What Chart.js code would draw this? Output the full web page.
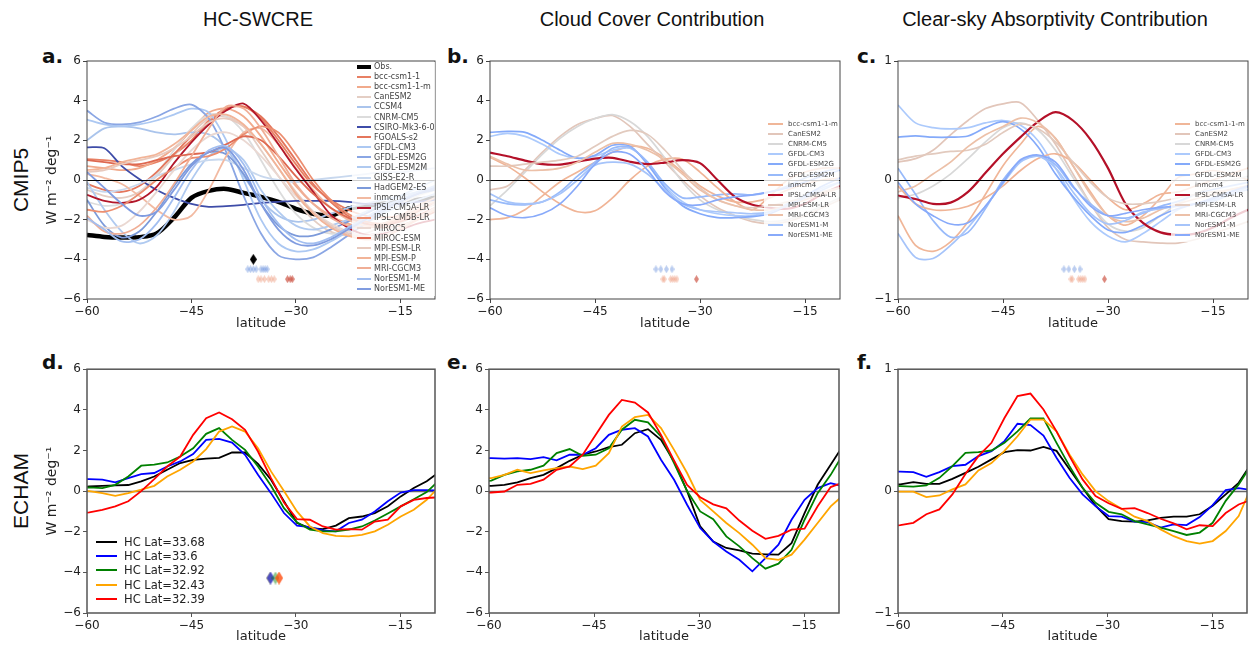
<!DOCTYPE html>
<html>
<head>
<meta charset="utf-8">
<title>HC-SWCRE latitude profiles</title>
<script src="https://cdn.jsdelivr.net/npm/chart.js@4.4.1/dist/chart.umd.min.js"></script>
<style>
  html, body { margin: 0; padding: 0; background: #fff; }
  body { position: relative; width: 1255px; height: 645px; overflow: hidden; font-family: "DejaVu Sans", sans-serif; color: #111; }
  canvas { position: absolute; }
  .col-title { position: absolute; top: 7px; width: 420px; text-align: center; font-family: "Liberation Sans", Arial, sans-serif; font-size: 20px; line-height: 24px; }
  .row-title { position: absolute; font-family: "Liberation Sans", Arial, sans-serif; font-size: 21px; transform: translate(-50%, -50%) rotate(-90deg); white-space: nowrap; }
  .panel-letter { position: absolute; font-family: "DejaVu Sans", sans-serif; font-weight: bold; font-size: 20px; line-height: 20px; }
  .legend { position: absolute; padding-bottom: 2px; }
  .legend .row { display: flex; align-items: center; white-space: nowrap; }
  .legend .swatch { flex: none; display: inline-block; }
</style>
</head>
<body>
<div class="col-title" style="left:48px">HC-SWCRE</div>
<div class="col-title" style="left:442px">Cloud Cover Contribution</div>
<div class="col-title" style="left:845px">Clear-sky Absorptivity Contribution</div>
<div class="row-title" style="left:21px;top:180px">CMIP5</div>
<div class="row-title" style="left:21px;top:491px">ECHAM</div>
<div class="panel-letter" style="left:42px;top:46px">a.</div>
<div class="panel-letter" style="left:447px;top:46px">b.</div>
<div class="panel-letter" style="left:857px;top:46px">c.</div>
<div class="panel-letter" style="left:42px;top:352px">d.</div>
<div class="panel-letter" style="left:447px;top:352px">e.</div>
<div class="panel-letter" style="left:857px;top:352px">f.</div>

<script>
// ---- axes ----
const xTicks = [-60, -45, -30, -15];
const wideTicks = [-6, -4, -2, 0, 2, 4, 6];
const narrowTicks = [-1, 0, 1];

// ---- CMIP5 (2.5 deg grid) ----
const cmipLat = [-60, -57.5, -55, -52.5, -50, -47.5, -45, -42.5, -40, -37.5, -35,
                 -32.5, -30, -27.5, -25, -22.5, -20, -17.5, -15, -12.5, -10];

// panel a: HC-SWCRE, rows follow hcModels
const hcModels = ['Obs.', 'bcc-csm1-1', 'bcc-csm1-1-m', 'CanESM2', 'CCSM4', 'CNRM-CM5',
  'CSIRO-Mk3-6-0', 'FGOALS-s2', 'GFDL-CM3', 'GFDL-ESM2G', 'GFDL-ESM2M', 'GISS-E2-R',
  'HadGEM2-ES', 'inmcm4', 'IPSL-CM5A-LR', 'IPSL-CM5B-LR', 'MIROC5', 'MIROC-ESM',
  'MPI-ESM-LR', 'MPI-ESM-P', 'MRI-CGCM3', 'NorESM1-M', 'NorESM1-ME'];
const hcSwcre = [
  [-2.77, -2.87, -2.9, -2.88, -2.7, -1.9, -0.9, -0.55, -0.45, -0.65, -0.85, -1.1, -1.45, -1.7, -1.8, -1.45, -1.3, -1.2, -1.1, -1.0, -0.9],
  [1.05, 1.0, 0.9, 0.7, 0.9, 1.3, 2.0, 3.0, 3.6, 3.7, 3.1, 2.0, 0.8, -0.3, -1.0, -1.5, -1.8, -1.9, -1.8, -1.5, -1.2],
  [0.7, 0.6, 0.5, 0.6, 1.0, 1.6, 2.5, 3.4, 3.6, 3.2, 2.2, 0.9, -0.3, -1.2, -1.8, -2.2, -2.4, -2.3, -2.0, -1.6, -1.2],
  [-0.5, -0.8, -0.9, -0.6, 0.2, 1.2, 2.3, 3.1, 3.2, 2.7, 1.5, 0.2, -1.0, -2.0, -2.6, -2.8, -2.7, -2.3, -1.8, -1.4, -1.0],
  [2.0, 2.6, 2.7, 2.6, 2.4, 2.3, 2.4, 2.3, 1.6, 0.2, -1.0, -1.8, -2.1, -2.0, -1.7, -1.4, -1.2, -1.0, -0.8, -0.6, -0.4],
  [-1.1, -1.3, -1.2, -0.7, 0.3, 1.5, 2.6, 3.3, 3.2, 2.4, 1.0, -0.5, -1.7, -2.4, -2.7, -2.6, -2.2, -1.7, -1.2, -0.8, -0.5],
  [1.65, 1.6, 0.7, 0.05, -0.5, -0.9, -1.2, -1.35, -1.32, -1.25, -1.15, -1.1, -1.05, -1.05, -1.05, -1.1, -1.2, -1.25, -1.2, -1.1, -1.0],
  [-0.2, -0.5, -0.6, -0.3, 0.4, 1.3, 2.2, 2.9, 3.6, 3.7, 3.2, 2.2, 1.0, -0.2, -1.1, -1.8, -2.2, -2.4, -2.3, -2.0, -1.6],
  [3.05, 2.8, 2.7, 2.8, 3.0, 3.3, 3.6, 3.4, 2.0, 0.0, -2.0, -3.2, -3.6, -3.5, -3.1, -2.6, -2.1, -1.7, -1.3, -1.0, -0.7],
  [3.5, 2.9, 2.8, 2.9, 3.2, 3.6, 3.8, 3.1, 1.4, -0.8, -2.7, -3.8, -4.0, -3.9, -3.4, -2.8, -2.2, -1.6, -1.1, -0.7, -0.4],
  [-0.1, -1.5, -2.6, -3.2, -2.8, -1.6, 0.0, 1.2, 1.6, 1.0, -0.5, -1.6, -2.3, -2.5, -2.3, -2.0, -1.6, -1.2, -0.8, -0.4, 0.0],
  [-0.4, -0.6, -0.5, -0.2, 0.2, 0.5, 0.8, 1.0, 1.0, 0.6, 0.2, 0.0, -0.1, 0.0, 0.1, 0.2, 0.3, 0.4, 0.4, 0.5, 0.6],
  [-1.0, -2.3, -2.9, -2.6, -1.6, -0.3, 0.8, 1.4, 1.3, 0.3, -1.2, -2.3, -2.8, -2.8, -2.5, -2.1, -1.7, -1.3, -1.0, -0.7, -0.5],
  [0.3, 0.1, -0.2, -0.8, -1.5, -2.0, -1.8, -0.5, 1.2, 2.4, 2.6, 1.8, 0.6, -0.5, -1.4, -2.0, -2.3, -2.2, -1.9, -1.5, -1.1],
  [-0.75, -1.05, -1.15, -1.0, -0.35, 0.85, 1.9, 2.8, 3.5, 3.85, 3.0, 1.8, 0.55, -0.6, -1.75, -2.4, -2.75, -2.7, -2.5, -2.2, -2.0],
  [-1.5, -1.6, -1.3, -0.7, 0.0, 0.6, 1.1, 1.2, 1.6, 2.3, 2.7, 2.4, 1.3, 0.0, -1.0, -1.7, -2.1, -2.2, -2.0, -1.6, -1.2],
  [-2.0, -2.4, -2.3, -1.6, -0.6, 0.5, 1.5, 2.2, 2.4, 2.0, 1.2, 0.2, -0.8, -1.6, -2.2, -2.6, -2.8, -2.6, -2.2, -1.7, -1.2],
  [1.0, 0.9, 0.8, 0.8, 1.0, 1.2, 1.3, 1.4, 1.8, 2.2, 2.0, 1.2, 0.2, -0.7, -1.4, -1.9, -2.2, -2.3, -2.1, -1.8, -1.4],
  [0.4, 0.5, 0.8, 1.0, 1.2, 1.6, 2.2, 2.9, 3.1, 2.7, 1.8, 0.6, -0.6, -1.6, -2.3, -2.7, -2.9, -2.8, -2.4, -1.9, -1.4],
  [0.5, 0.6, 0.9, 1.1, 1.3, 1.8, 2.5, 3.2, 3.3, 2.8, 1.8, 0.6, -0.7, -1.7, -2.4, -2.8, -3.0, -2.9, -2.5, -2.0, -1.5],
  [-1.8, -2.6, -2.7, -2.3, -1.4, -0.2, 1.2, 2.6, 3.7, 3.6, 2.6, 1.2, -0.2, -1.2, -1.9, -2.3, -2.4, -2.2, -1.8, -1.3, -0.9],
  [-1.9, -2.5, -3.1, -3.0, -2.2, -0.9, 0.5, 1.5, 1.7, 0.8, -0.9, -2.2, -3.0, -3.2, -2.9, -2.4, -1.9, -1.4, -1.0, -0.6, -0.3],
  [0.4, -0.4, -1.2, -1.8, -1.6, -0.5, 0.7, 1.4, 1.6, 0.5, -1.2, -2.5, -3.2, -3.3, -3.0, -2.5, -2.0, -1.5, -1.1, -0.7, -0.4]
];
const hcColors = ['#000000', 'rgb(232,128,100)', 'rgb(241,170,140)', 'rgb(228,206,196)', 'rgb(170,196,236)',
  'rgb(220,220,220)', 'rgb(62,76,168)', 'rgb(228,118,92)', 'rgb(172,200,242)', 'rgb(138,166,228)',
  'rgb(176,202,240)', 'rgb(200,216,238)', 'rgb(124,154,218)', 'rgb(242,186,162)', 'rgb(178,22,42)',
  'rgb(236,142,112)', 'rgb(234,216,210)', 'rgb(222,104,80)', 'rgb(232,202,190)', 'rgb(242,180,152)',
  'rgb(240,174,150)', 'rgb(162,190,240)', 'rgb(128,156,224)'];

// HC edge latitudes (diamonds) for panel a
const hcObsEdge = [-36.1];
const hcBlueEdges = [-36.9, -36.5, -36.1, -35.7, -35.0, -34.7, -34.4, -34.1];
const hcRedEdges = [-35.4, -35.0, -34.5, -33.9, -33.5, -33.1, -31.2, -30.8, -30.5];

// panels b and c, rows follow decompModels
const decompModels = ['bcc-csm1-1-m', 'CanESM2', 'CNRM-CM5', 'GFDL-CM3', 'GFDL-ESM2G', 'GFDL-ESM2M',
  'inmcm4', 'IPSL-CM5A-LR', 'MPI-ESM-LR', 'MRI-CGCM3', 'NorESM1-M', 'NorESM1-ME'];
const decompColors = ['rgb(240,182,152)', 'rgb(226,198,186)', 'rgb(216,216,216)', 'rgb(172,202,252)',
  'rgb(132,170,250)', 'rgb(152,186,250)', 'rgb(240,180,150)', 'rgb(180,16,40)', 'rgb(226,202,190)',
  'rgb(236,192,168)', 'rgb(166,196,250)', 'rgb(136,170,250)'];
const cloudCover = [
  [-2.0, -1.9, -1.5, -0.8, -0.1, 0.4, 0.9, 1.4, 1.7, 1.6, 1.1, 0.4, -0.3, -0.8, -1.1, -1.1, -0.9, -0.5, -0.2, 0.0, 0.1],
  [-0.5, -0.3, 0.5, 1.4, 2.2, 2.8, 3.1, 3.25, 2.7, 1.8, 0.9, 0.0, -0.8, -1.4, -1.8, -2.1, -2.2, -2.1, -1.8, -1.4, -1.0],
  [-1.3, -0.5, 0.4, 1.3, 2.1, 2.7, 3.1, 3.3, 2.95, 2.2, 1.1, -0.1, -1.0, -1.5, -1.8, -2.0, -2.1, -2.0, -1.7, -1.3, -0.9],
  [2.2, 2.35, 2.2, 1.8, 1.3, 1.1, 1.2, 1.5, 1.6, 0.9, -0.3, -1.1, -1.5, -1.7, -1.8, -1.8, -1.6, -1.2, -0.8, -0.4, -0.1],
  [2.4, 2.45, 2.4, 2.0, 1.5, 1.1, 1.25, 1.75, 1.7, 0.8, -0.4, -1.3, -1.7, -1.9, -1.9, -1.85, -1.7, -1.3, -0.8, -0.3, 0.1],
  [-1.0, -1.2, -1.25, -1.1, -0.6, 0.2, 0.9, 1.6, 1.65, 0.9, -0.2, -0.9, -0.85, -0.75, -0.7, -0.75, -0.6, -0.3, 0.1, 0.4, 0.6],
  [1.15, 0.7, 0.1, -0.6, -1.2, -1.6, -1.55, -0.9, 0.0, 0.7, 1.05, 1.05, 0.4, -0.4, -1.1, -1.5, -0.8, 0.0, 0.4, 0.6, 0.6],
  [1.38, 1.2, 0.98, 0.8, 0.78, 0.92, 1.08, 1.12, 0.92, 0.8, 0.88, 1.0, 0.85, 0.0, -0.85, -1.25, -1.4, -1.45, -1.2, -0.7, -0.3],
  [0.7, 0.7, 0.8, 0.9, 1.0, 1.2, 1.7, 2.2, 2.5, 2.3, 1.5, 0.5, -0.4, -1.0, -1.3, -1.4, -1.3, -1.1, -0.9, -0.6, -0.4],
  [1.2, 0.8, 0.5, 0.5, 0.6, 0.9, 1.4, 1.85, 1.8, 1.5, 1.0, 0.3, -0.5, -1.0, -1.3, -1.5, -1.5, -1.3, -1.0, -0.7, -0.4],
  [-0.7, -1.1, -1.2, -1.1, -0.7, 0.0, 0.75, 0.9, 0.8, 0.3, -0.5, -1.2, -1.5, -1.6, -1.65, -1.7, -1.6, -1.3, -0.9, -0.5, -0.1],
  [-1.4, -1.8, -1.9, -1.7, -1.2, -0.3, 0.8, 1.4, 1.3, 0.5, -0.6, -1.2, -1.25, -1.0, -0.85, -0.75, -0.6, -0.4, -0.1, 0.2, 0.5]
];
const clearSky = [
  [-0.3, -0.55, -0.6, -0.52, -0.35, -0.12, 0.12, 0.3, 0.45, 0.35, 0.12, -0.1, -0.3, -0.38, -0.3, -0.15, 0.02, 0.05, 0.08, 0.05, 0.0],
  [0.15, 0.18, 0.25, 0.38, 0.5, 0.6, 0.64, 0.65, 0.5, 0.3, 0.05, -0.2, -0.4, -0.5, -0.52, -0.53, -0.53, -0.5, -0.45, -0.4, -0.35],
  [-0.15, -0.12, -0.05, 0.05, 0.18, 0.32, 0.44, 0.48, 0.42, 0.25, 0.02, -0.2, -0.37, -0.43, -0.4, -0.3, -0.2, -0.12, -0.05, 0.0, 0.03],
  [0.63, 0.48, 0.44, 0.43, 0.44, 0.48, 0.5, 0.46, 0.33, 0.1, -0.15, -0.35, -0.47, -0.52, -0.45, -0.35, -0.25, -0.2, -0.17, -0.12, -0.08],
  [0.36, 0.37, 0.36, 0.36, 0.37, 0.44, 0.49, 0.43, 0.28, 0.05, -0.14, -0.3, -0.42, -0.44, -0.38, -0.3, -0.24, -0.2, -0.16, -0.1, -0.05],
  [0.1, -0.12, -0.34, -0.48, -0.44, -0.24, 0.0, 0.16, 0.2, 0.13, -0.06, -0.2, -0.3, -0.32, -0.28, -0.22, -0.18, -0.12, -0.08, -0.05, -0.02],
  [-0.05, -0.2, -0.25, -0.25, -0.22, -0.15, -0.05, 0.08, 0.18, 0.22, 0.15, 0.0, -0.15, -0.25, -0.2, -0.12, -0.1, -0.05, 0.0, 0.05, 0.1],
  [-0.13, -0.16, -0.2, -0.19, -0.1, 0.06, 0.22, 0.36, 0.49, 0.57, 0.5, 0.34, 0.1, -0.2, -0.36, -0.44, -0.46, -0.45, -0.4, -0.32, -0.25],
  [0.17, 0.2, 0.22, 0.24, 0.25, 0.3, 0.4, 0.47, 0.43, 0.32, 0.15, -0.02, -0.15, -0.2, -0.2, -0.18, -0.15, -0.12, -0.1, -0.08, -0.05],
  [-0.1, -0.05, 0.05, 0.15, 0.28, 0.38, 0.45, 0.52, 0.48, 0.35, 0.12, -0.12, -0.3, -0.35, -0.32, -0.25, -0.2, -0.16, -0.12, -0.08, -0.05],
  [-0.45, -0.65, -0.66, -0.55, -0.4, -0.22, -0.03, 0.15, 0.2, 0.1, -0.1, -0.28, -0.37, -0.34, -0.27, -0.24, -0.22, -0.2, -0.18, -0.12, -0.06],
  [-0.02, -0.2, -0.3, -0.37, -0.36, -0.22, -0.02, 0.17, 0.21, 0.15, -0.05, -0.22, -0.3, -0.28, -0.25, -0.23, -0.22, -0.2, -0.15, -0.1, -0.05]
];
// HC edge latitudes (diamonds) for panels b and c
const decompBlueEdges = [-36.3, -35.6, -34.8, -34.0];
const decompPinkEdges = [-35.3, -35.1, -34.2, -33.9, -33.6, -33.3];
const decompRedEdges = [-30.5];

// ---- ECHAM (T63 Gaussian grid) ----
const echamHcLat = [33.68, 33.6, 32.92, 32.43, 32.39];
const echamColors = ['#000000', '#0000ff', '#008000', '#ffa500', '#ff0000'];
const echamLat = [-61.53, -59.67, -57.80, -55.94, -54.07, -52.21, -50.34, -48.48, -46.61, -44.75,
  -42.88, -41.02, -39.16, -37.29, -35.43, -33.56, -31.70, -29.83, -27.97, -26.10, -24.24, -22.38,
  -20.51, -18.65, -16.78, -14.92, -13.05, -11.19, -9.33];
const echamSwcre = [
  [0.2, 0.23, 0.26, 0.28, 0.3, 0.48, 0.72, 1.05, 1.38, 1.54, 1.6, 1.64, 1.9, 1.9, 1.34, 0.56, -0.5, -1.57, -1.82, -1.87, -1.7, -1.33, -1.25, -1.08, -0.75, -0.26, 0.15, 0.48, 0.95],
  [0.6, 0.59, 0.56, 0.43, 0.64, 0.84, 0.89, 1.21, 1.46, 1.82, 2.52, 2.57, 2.39, 1.79, 0.8, -0.1, -1.08, -1.7, -1.77, -1.93, -1.98, -1.57, -1.41, -1.0, -0.5, -0.07, 0.05, 0.05, 0.02],
  [0.15, 0.18, 0.15, 0.31, 0.72, 1.25, 1.3, 1.41, 1.7, 2.11, 2.82, 3.1, 2.52, 2.03, 1.21, 0.26, -0.84, -1.54, -1.9, -1.98, -1.98, -1.9, -1.74, -1.45, -1.1, -0.75, -0.4, -0.05, 0.55],
  [0.0, 0.0, -0.1, -0.23, -0.1, 0.07, 0.26, 0.72, 1.05, 1.46, 2.07, 2.93, 3.18, 2.93, 2.11, 0.97, 0.0, -1.0, -1.74, -2.07, -2.2, -2.23, -2.15, -1.98, -1.66, -1.25, -0.92, -0.43, 0.25],
  [-1.1, -1.05, -0.92, -0.75, -0.5, 0.0, 0.59, 1.21, 1.7, 2.77, 3.59, 3.87, 3.54, 3.02, 1.95, 0.64, -0.56, -1.38, -1.41, -1.74, -1.9, -1.87, -1.9, -1.5, -1.41, -0.75, -0.43, -0.34, -0.3]
];
const echamCloud = [
  [0.25, 0.26, 0.31, 0.43, 0.64, 0.8, 1.13, 1.49, 1.79, 1.95, 2.16, 2.28, 2.85, 3.05, 2.52, 1.46, 0.0, -1.74, -2.48, -2.8, -2.92, -3.08, -3.11, -3.13, -2.56, -1.08, 0.31, 1.3, 2.28],
  [1.62, 1.62, 1.6, 1.62, 1.57, 1.67, 1.51, 1.79, 1.79, 2.11, 2.77, 3.02, 3.1, 2.69, 1.54, 0.56, -0.67, -1.82, -2.48, -2.97, -3.38, -3.95, -3.3, -2.64, -1.41, -0.43, 0.15, 0.39, 0.23],
  [0.45, 0.52, 0.8, 0.97, 1.05, 1.25, 1.87, 2.07, 1.74, 1.79, 2.11, 3.02, 3.51, 3.38, 2.69, 1.38, 0.0, -1.0, -1.38, -2.23, -2.72, -3.3, -3.82, -3.57, -2.89, -1.41, -0.1, 0.8, 1.87],
  [0.6, 0.64, 0.8, 1.05, 0.89, 1.02, 1.13, 1.21, 1.08, 1.25, 1.87, 3.18, 3.64, 3.75, 3.1, 2.03, 0.89, -0.43, -1.0, -1.57, -2.07, -2.64, -3.3, -3.38, -3.13, -2.39, -1.57, -0.75, -0.18],
  [-0.1, -0.07, -0.02, 0.31, 0.36, 0.56, 1.05, 1.21, 1.79, 2.77, 3.75, 4.49, 4.36, 3.87, 2.77, 1.5, 0.3, -0.3, -0.65, -0.85, -1.45, -1.95, -2.35, -2.2, -1.9, -1.85, -0.75, 0.2, 0.43]
];
const echamClear = [
  [0.05, 0.055, 0.074, 0.06, 0.06, 0.1, 0.15, 0.2, 0.26, 0.32, 0.336, 0.333, 0.363, 0.33, 0.18, 0.027, -0.12, -0.23, -0.246, -0.25, -0.24, -0.22, -0.21, -0.21, -0.19, -0.12, -0.027, 0.068, 0.23],
  [0.16, 0.16, 0.156, 0.117, 0.156, 0.205, 0.216, 0.287, 0.328, 0.41, 0.552, 0.541, 0.456, 0.273, 0.109, -0.027, -0.123, -0.205, -0.21, -0.25, -0.254, -0.3, -0.273, -0.279, -0.213, -0.115, 0.008, 0.025, 0.008],
  [0.04, 0.041, 0.036, 0.046, 0.109, 0.205, 0.314, 0.32, 0.333, 0.396, 0.49, 0.596, 0.596, 0.396, 0.205, 0.027, -0.096, -0.17, -0.19, -0.246, -0.273, -0.3, -0.328, -0.36, -0.34, -0.26, -0.08, 0.055, 0.22],
  [-0.005, -0.005, -0.005, -0.05, -0.036, 0.014, 0.055, 0.17, 0.23, 0.33, 0.45, 0.587, 0.587, 0.49, 0.3, 0.137, 0.0, -0.082, -0.145, -0.21, -0.246, -0.314, -0.37, -0.41, -0.43, -0.41, -0.328, -0.205, 0.04],
  [-0.29, -0.28, -0.26, -0.19, -0.15, -0.027, 0.14, 0.287, 0.396, 0.6, 0.78, 0.8, 0.67, 0.49, 0.287, 0.096, -0.04, -0.1, -0.145, -0.14, -0.18, -0.227, -0.265, -0.314, -0.28, -0.287, -0.18, -0.11, -0.07]
];

// ---- helpers ----
function fmt(v) {
  return v < 0 ? '\u2212' + Math.abs(v) : String(v);
}

// thin matplotlib-style diamond used as a point image
function diamond(color, w, h) {
  const c = document.createElement('canvas');
  c.width = w; c.height = h;
  const g = c.getContext('2d');
  g.fillStyle = color;
  g.beginPath();
  g.moveTo(w / 2, 0); g.lineTo(w, h / 2); g.lineTo(w / 2, h); g.lineTo(0, h / 2);
  g.closePath();
  g.fill();
  return c;
}

function lineSets(lat, rows, colors, widths, tension) {
  return rows.map((vals, i) => ({
    data: lat.map((x, j) => ({ x: x, y: vals[j] })),
    borderColor: colors[i],
    borderWidth: widths[i],
    pointRadius: 0,
    fill: false,
    tension: tension,
    order: -i            // later models on top, as in matplotlib
  }));
}

function diamondSet(lats, y, colors, w, h) {
  return {
    data: lats.map(x => ({ x: x, y: y })),
    showLine: false,
    pointRadius: 3,
    pointStyle: lats.map((_, i) => diamond(colors[i % colors.length], w, h)),
    order: -1000
  };
}

function drawZero(chart, o) {
  const { ctx, chartArea: a, scales: { y } } = chart;
  const py = Math.round(y.getPixelForValue(0)) + 0.5;
  ctx.save();
  ctx.strokeStyle = o.zeroColor;
  ctx.lineWidth = o.zeroWidth;
  ctx.beginPath(); ctx.moveTo(a.left, py); ctx.lineTo(a.right, py); ctx.stroke();
  ctx.restore();
}

// full box around the axes plus the y = 0 reference line
const framePlugin = {
  id: 'frame',
  beforeDatasetsDraw(chart, args, o) {
    if (!o.zeroOnTop) drawZero(chart, o);
  },
  afterDatasetsDraw(chart, args, o) {
    if (o.zeroOnTop) drawZero(chart, o);
    const { ctx, chartArea: a } = chart;
    ctx.save();
    ctx.strokeStyle = o.color;
    ctx.lineWidth = o.width;
    ctx.strokeRect(a.left, a.top, a.right - a.left, a.bottom - a.top);
    ctx.restore();
  }
};

function makePanel(p) {
  const canvas = document.createElement('canvas');
  canvas.width = p.box.w;
  canvas.height = p.box.h;
  canvas.style.left = p.box.x + 'px';
  canvas.style.top = p.box.y + 'px';
  document.body.appendChild(canvas);

  const tickFont = { family: 'DejaVu Sans', size: 12 };
  return new Chart(canvas, {
    type: 'line',
    data: { datasets: p.datasets },
    options: {
      responsive: false,
      animation: false,
      events: [],
      layout: { padding: { top: p.plot.t - p.box.y, right: p.box.x + p.box.w - p.plot.r, left: 0, bottom: 0 } },
      plugins: { legend: { display: false }, tooltip: { enabled: false }, frame: p.frame },
      scales: {
        x: {
          type: 'linear', min: -60, max: -10,
          afterBuildTicks: s => { s.ticks = xTicks.map(v => ({ value: v })); },
          afterFit: s => { s.height = p.box.y + p.box.h - p.plot.b; },
          border: { display: false },
          grid: { drawOnChartArea: false, color: p.frame.color, tickLength: 4 },
          ticks: { color: '#222', font: tickFont, padding: 2, maxRotation: 0, autoSkip: false, callback: fmt },
          title: { display: true, text: 'latitude', color: '#222', font: { family: 'DejaVu Sans', size: 13 }, padding: { top: 0, bottom: p.titlePad } }
        },
        y: {
          type: 'linear', min: p.yTicks[0], max: p.yTicks[p.yTicks.length - 1],
          afterBuildTicks: s => { s.ticks = p.yTicks.map(v => ({ value: v })); },
          afterFit: s => { s.width = p.plot.l - p.box.x; },
          border: { display: false },
          grid: { drawOnChartArea: false, color: p.frame.color, tickLength: 4 },
          ticks: { color: '#222', font: tickFont, padding: 2, autoSkip: false, callback: fmt },
          title: { display: !!p.yTitle, text: p.yTitle || '', color: '#222', font: { family: 'DejaVu Sans', size: 14 } }
        }
      }
    },
    plugins: [framePlugin]
  });
}

function addLegend(pos, labels, colors, widths, st) {
  const box = document.createElement('div');
  box.className = 'legend';
  Object.assign(box.style, {
    left: pos.x + 'px', top: pos.y + 'px', width: pos.w + 'px',
    background: st.bg, fontSize: st.font + 'px', color: st.color
  });
  labels.forEach((label, i) => {
    const row = document.createElement('div');
    row.className = 'row';
    row.style.height = st.rowH + 'px';
    const sw = document.createElement('span');
    sw.className = 'swatch';
    Object.assign(sw.style, {
      width: st.swW + 'px', height: widths[i] + 'px', background: colors[i],
      marginLeft: st.padL + 'px', marginRight: st.gap + 'px'
    });
    const tx = document.createElement('span');
    tx.textContent = label;
    row.append(sw, tx);
    box.appendChild(row);
  });
  document.body.appendChild(box);
}

// ---- build ----
const topFrame = { color: '#444', width: 1, zeroColor: '#000', zeroWidth: 1, zeroOnTop: true };
const botFrame = { color: '#555', width: 1.5, zeroColor: '#666', zeroWidth: 1.5, zeroOnTop: false };
const yUnit = 'W m\u207B\u00B2 deg\u207B\u00B9';

const hcWidths = hcModels.map((m, i) => (i === 0 ? 4.5 : 1.8));
const decompWidths = decompModels.map(m => (m === 'IPSL-CM5A-LR' ? 2.2 : 1.7));
const echamWidths = echamHcLat.map(() => 1.8);

const blueDia = ['rgba(120,155,225,0.5)'];
const pinkDia = ['rgba(240,172,145,0.55)'];
const redDia = ['rgba(205,85,70,0.7)'];

// a. HC-SWCRE (CMIP5)
makePanel({
  box: { x: 40, y: 50, w: 400, h: 285 }, plot: { l: 87, t: 61, r: 437, b: 299 },
  yTicks: wideTicks, yTitle: yUnit, titlePad: 4, frame: topFrame,
  datasets: lineSets(cmipLat, hcSwcre, hcColors, hcWidths, 0.3).concat([
    diamondSet(hcObsEdge, -4, ['#000000'], 7, 11),
    diamondSet(hcBlueEdges, -4.5, blueDia, 5, 8),
    diamondSet(hcRedEdges, -5, pinkDia.concat(pinkDia, pinkDia, pinkDia, pinkDia, pinkDia, redDia, redDia, redDia), 5, 8)
  ])
});
addLegend({ x: 352, y: 61.5, w: 83 }, hcModels, hcColors, hcWidths.map(w => (w > 3 ? 4 : 2)),
  { bg: 'rgba(255,255,255,0.8)', font: 8, color: '#444', rowH: 10.1, swW: 14, padL: 5, gap: 3 });

// b. cloud cover contribution (CMIP5)
makePanel({
  box: { x: 440, y: 50, w: 405, h: 285 }, plot: { l: 490, t: 61, r: 840, b: 299 },
  yTicks: wideTicks, titlePad: 4, frame: topFrame,
  datasets: lineSets(cmipLat, cloudCover, decompColors, decompWidths, 0.3).concat([
    diamondSet(decompBlueEdges, -4.5, blueDia, 5, 8),
    diamondSet(decompPinkEdges, -5, pinkDia, 5, 8),
    diamondSet(decompRedEdges, -5, redDia, 5, 8)
  ])
});
addLegend({ x: 764, y: 119, w: 75 }, decompModels, decompColors, decompWidths.map(() => 2),
  { bg: 'rgba(255,255,255,0.8)', font: 7, color: '#444', rowH: 10.1, swW: 15, padL: 4, gap: 5 });

// c. clear-sky absorptivity contribution (CMIP5)
makePanel({
  box: { x: 845, y: 50, w: 410, h: 285 }, plot: { l: 898, t: 61, r: 1248, b: 299 },
  yTicks: narrowTicks, titlePad: 4, frame: topFrame,
  datasets: lineSets(cmipLat, clearSky, decompColors, decompWidths, 0.3).concat([
    diamondSet(decompBlueEdges, -0.75, blueDia, 5, 8),
    diamondSet(decompPinkEdges, -0.833, pinkDia, 5, 8),
    diamondSet(decompRedEdges, -0.833, redDia, 5, 8)
  ])
});
addLegend({ x: 1171, y: 119, w: 76 }, decompModels, decompColors, decompWidths.map(() => 2),
  { bg: 'rgba(255,255,255,0.8)', font: 7, color: '#444', rowH: 10.1, swW: 15, padL: 4, gap: 5 });

// d. HC-SWCRE (ECHAM)
const echamDia = ['rgba(0,0,0,0.45)', 'rgba(0,0,255,0.45)', 'rgba(0,128,0,0.45)', 'rgba(255,165,0,0.55)', 'rgba(255,0,0,0.45)'];
makePanel({
  box: { x: 40, y: 360, w: 400, h: 285 }, plot: { l: 87, t: 369, r: 437, b: 613 },
  yTicks: wideTicks, yTitle: yUnit, titlePad: 1, frame: botFrame,
  datasets: lineSets(echamLat, echamSwcre, echamColors, echamWidths, 0).concat([
    diamondSet(echamHcLat.map(v => -v), -4.28, echamDia, 8, 13)
  ])
});
addLegend({ x: 92, y: 534.5, w: 100 }, echamHcLat.map(v => 'HC Lat=' + v), echamColors, echamWidths.map(() => 2),
  { bg: 'rgba(255,255,255,0.8)', font: 11.5, color: '#222', rowH: 14.4, swW: 21, padL: 4, gap: 7 });

// e. cloud cover contribution (ECHAM)
makePanel({
  box: { x: 440, y: 360, w: 405, h: 285 }, plot: { l: 489, t: 369, r: 839, b: 613 },
  yTicks: wideTicks, titlePad: 1, frame: botFrame,
  datasets: lineSets(echamLat, echamCloud, echamColors, echamWidths, 0)
});

// f. clear-sky absorptivity contribution (ECHAM)
makePanel({
  box: { x: 845, y: 360, w: 410, h: 285 }, plot: { l: 898, t: 369, r: 1247, b: 613 },
  yTicks: narrowTicks, titlePad: 1, frame: botFrame,
  datasets: lineSets(echamLat, echamClear, echamColors, echamWidths, 0)
});
</script>
</body>
</html>
